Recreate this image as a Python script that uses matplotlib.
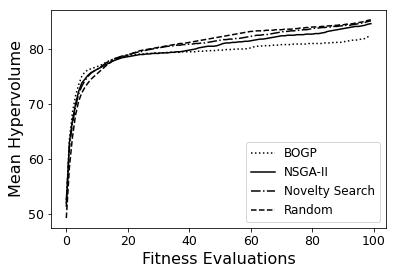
import numpy as np
import matplotlib
matplotlib.use('Agg')
import matplotlib.pyplot as plt

#> Fitness evaluations
evals = np.arange(100)

#> Mean hypervolume per method
bogp = [
    52.0, 63.5, 68.5, 71.5, 73.5, 75.0, 75.8, 76.2, 76.4, 76.6,
    76.8, 77.0, 77.3, 77.6, 77.9, 78.1, 78.3, 78.5, 78.6, 78.7,
    78.8, 78.9, 79.0, 79.0, 79.1, 79.1, 79.2, 79.2, 79.2, 79.3,
    79.3, 79.3, 79.3, 79.4, 79.4, 79.4, 79.4, 79.4, 79.5, 79.5,
    79.5, 79.5, 79.5, 79.6, 79.6, 79.6, 79.7, 79.7, 79.7, 79.8,
    79.8, 79.8, 79.9, 79.9, 79.9, 80.0, 80.0, 80.0, 80.0, 80.1,
    80.2, 80.4, 80.5, 80.5, 80.6, 80.6, 80.6, 80.7, 80.7, 80.7,
    80.8, 80.8, 80.8, 80.8, 80.9, 80.9, 80.9, 80.9, 80.9, 81.0,
    81.0, 81.0, 81.0, 81.0, 81.1, 81.1, 81.1, 81.2, 81.2, 81.2,
    81.3, 81.4, 81.5, 81.6, 81.6, 81.7, 81.8, 81.9, 82.2, 82.4,
]
nsga2 = [
    51.5, 63.0, 67.0, 70.0, 72.3, 73.8, 74.5, 75.2, 75.7, 76.0,
    76.3, 76.6, 76.9, 77.2, 77.5, 77.8, 78.0, 78.2, 78.4, 78.5,
    78.6, 78.7, 78.8, 78.9, 79.0, 79.0, 79.1, 79.1, 79.2, 79.2,
    79.2, 79.3, 79.3, 79.3, 79.4, 79.4, 79.5, 79.5, 79.6, 79.7,
    79.8, 79.9, 80.0, 80.2, 80.3, 80.4, 80.5, 80.5, 80.5, 80.6,
    80.8, 81.0, 81.1, 81.1, 81.2, 81.2, 81.3, 81.3, 81.4, 81.4,
    81.5, 81.6, 81.7, 81.8, 81.8, 81.9, 82.0, 82.1, 82.2, 82.3,
    82.4, 82.4, 82.5, 82.5, 82.5, 82.6, 82.6, 82.6, 82.7, 82.7,
    82.7, 82.8, 82.8, 82.9, 83.0, 83.2, 83.3, 83.4, 83.5, 83.6,
    83.7, 83.8, 83.9, 84.0, 84.1, 84.1, 84.2, 84.3, 84.5, 84.6,
]
novelty = [
    52.5, 62.0, 66.5, 69.5, 71.8, 73.2, 74.2, 75.0, 75.6, 76.0,
    76.3, 76.7, 77.1, 77.5, 77.8, 78.1, 78.3, 78.5, 78.7, 78.8,
    79.0, 79.1, 79.3, 79.4, 79.5, 79.6, 79.8, 79.9, 80.0, 80.1,
    80.2, 80.3, 80.4, 80.5, 80.5, 80.6, 80.7, 80.7, 80.8, 80.8,
    80.9, 80.9, 81.0, 81.0, 81.1, 81.1, 81.2, 81.3, 81.4, 81.5,
    81.6, 81.7, 81.7, 81.8, 81.8, 81.9, 81.9, 82.0, 82.1, 82.2,
    82.3, 82.4, 82.5, 82.5, 82.6, 82.6, 82.7, 82.8, 82.9, 83.0,
    83.1, 83.2, 83.2, 83.3, 83.3, 83.4, 83.4, 83.5, 83.5, 83.6,
    83.7, 83.8, 83.8, 83.9, 83.9, 84.0, 84.0, 84.1, 84.1, 84.2,
    84.2, 84.3, 84.3, 84.4, 84.5, 84.6, 84.7, 84.8, 85.0, 85.1,
]
rand = [
    49.3, 58.5, 64.0, 68.0, 70.5, 72.0, 73.0, 73.8, 74.5, 75.0,
    75.5, 76.0, 76.5, 77.0, 77.4, 77.8, 78.1, 78.3, 78.5, 78.7,
    78.9, 79.1, 79.3, 79.5, 79.7, 79.8, 79.9, 80.0, 80.1, 80.2,
    80.3, 80.4, 80.5, 80.6, 80.7, 80.8, 80.9, 81.0, 81.0, 81.1,
    81.2, 81.3, 81.4, 81.5, 81.6, 81.7, 81.8, 81.9, 82.0, 82.1,
    82.2, 82.3, 82.4, 82.5, 82.6, 82.7, 82.8, 82.9, 83.0, 83.1,
    83.2, 83.2, 83.3, 83.3, 83.3, 83.4, 83.4, 83.4, 83.5, 83.5,
    83.5, 83.6, 83.6, 83.6, 83.7, 83.7, 83.8, 83.8, 83.9, 83.9,
    84.0, 84.0, 84.0, 84.1, 84.1, 84.2, 84.2, 84.3, 84.3, 84.4,
    84.4, 84.5, 84.5, 84.6, 84.7, 84.8, 84.9, 85.0, 85.2, 85.3,
]

#> Plot
fig = plt.figure(figsize=(5.5, 275/72), dpi=72)
ax = fig.add_axes([0.129, 0.171, 0.846, 0.793])
ax.plot(evals, bogp, ':', color='k', lw=1.5, label='BOGP')
ax.plot(evals, nsga2, '-', color='k', lw=1.5, label='NSGA-II')
ax.plot(evals, novelty, '-.', color='k', lw=1.5, label='Novelty Search')
ax.plot(evals, rand, '--', color='k', lw=1.5, label='Random')
ax.set_xlabel('Fitness Evaluations', fontsize=16)
ax.set_ylabel('Mean Hypervolume', fontsize=16)
ax.set_xticks([0, 20, 40, 60, 80, 100])
ax.set_yticks([50, 60, 70, 80])
ax.tick_params(labelsize=12.5)
ax.legend(loc='lower right', fontsize=12)

fig.savefig('out.png', dpi=72)
